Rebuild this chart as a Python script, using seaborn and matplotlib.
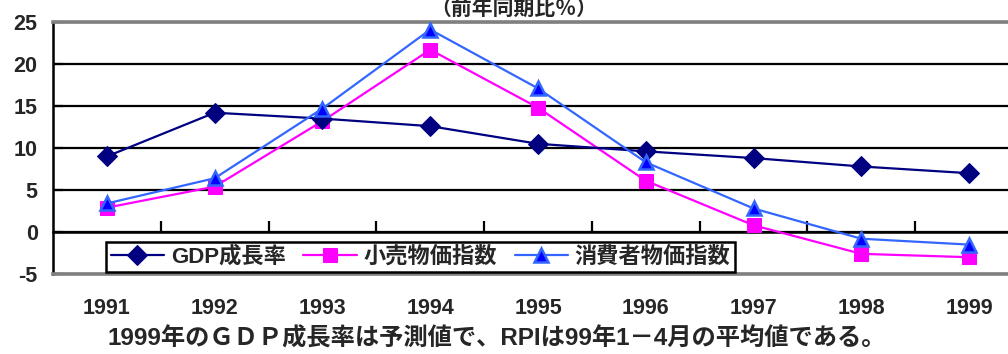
import numpy as np
import pandas as pd
import matplotlib
matplotlib.use("Agg")
import matplotlib.pyplot as plt
import seaborn as sns

# data
years = [1991, 1992, 1993, 1994, 1995, 1996, 1997, 1998, 1999]
gdp = [9.0, 14.2, 13.5, 12.6, 10.5, 9.6, 8.8, 7.8, 7.0]
rpi = [2.9, 5.4, 13.2, 21.7, 14.8, 6.1, 0.8, -2.6, -3.0]
cpi = [3.4, 6.4, 14.7, 24.1, 17.1, 8.3, 2.8, -0.8, -1.5]
names = ['GDP成長率', '小売物価指数', '消費者物価指数']
yticks = [-5, 0, 5, 10, 15, 20, 25]
title = '（前年同期比％）'
note = '1999年のＧＤＰ成長率は予測値で、RPIは99年1－4月の平均値である。'

sns.set_theme(style='white')
plt.rcParams['font.family'] = ['Liberation Sans', 'Noto Sans CJK JP', 'DejaVu Sans']
plt.rcParams['font.weight'] = 'bold'
plt.rcParams['axes.unicode_minus'] = False

df = pd.DataFrame({'year': years, names[0]: gdp, names[1]: rpi, names[2]: cpi})

fig = plt.figure(figsize=(10.08, 3.54), dpi=100)
ax = fig.add_axes([53 / 1008, 80 / 354, 970 / 1008, 252 / 354])

sns.lineplot(data=df, x='year', y=names[0], ax=ax, color='#000080', lw=1.6,
             marker='D', markersize=10, markerfacecolor='#000080',
             markeredgecolor='#000080', label=names[0], zorder=5)
sns.lineplot(data=df, x='year', y=names[1], ax=ax, color='#FF00FF', lw=1.6,
             marker='s', markersize=10.5, markerfacecolor='#FF00FF',
             markeredgecolor='#FF00FF', label=names[1], zorder=4)
sns.lineplot(data=df, x='year', y=names[2], ax=ax, color='#3366FF', lw=1.6,
             marker='^', markersize=10.5, markerfacecolor='#0000FF',
             markeredgecolor='#3366FF', markeredgewidth=1.8,
             label=names[2], zorder=6)

ax.set_xlim(1990.5, 1999.5)
ax.set_ylim(-5, 25)
ax.set_yticks(yticks)
ax.set_xticks(years)
ax.set_xlabel('')
ax.set_ylabel('')
ax.grid(axis='y', color='black', lw=1.6)
ax.grid(axis='x', visible=False)
ax.tick_params(axis='x', length=0, pad=17, labelsize=15.5)
ax.tick_params(axis='y', direction='in', length=7, width=1.6, color='black',
               labelsize=15.5, pad=11, left=True)
for lab in ax.get_xticklabels() + ax.get_yticklabels():
    lab.set_fontweight('bold')

for s in ['top', 'bottom']:
    ax.spines[s].set_color('#808080')
    ax.spines[s].set_linewidth(2.6)
ax.spines['left'].set_color('black')
ax.spines['left'].set_linewidth(1.8)
ax.spines['right'].set_visible(False)

# zero line with category boundary ticks
sec = ax.secondary_xaxis(5 / 30)
sec.set_xticks([y + 0.5 for y in years[:-1]])
sec.set_xticklabels([])
sec.tick_params(axis='x', direction='in', length=8, width=1.6, color='black')
sec.spines['bottom'].set_color('black')
sec.spines['bottom'].set_linewidth(1.8)

leg = ax.legend(loc='lower left', bbox_to_anchor=(0.055, 0.008), ncol=3,
                frameon=True, fancybox=False, edgecolor='black', framealpha=1,
                handlelength=2.4, handletextpad=0.3, columnspacing=0.8,
                borderpad=0.2, borderaxespad=0.0,
                prop={'size': 16, 'weight': 'bold'})
leg.get_frame().set_linewidth(1.8)
leg.set_zorder(3)

fig.text(0.51, 0.999, title, ha='center', va='top', fontsize=15,
         fontweight='bold')
fig.text(0.493, 0.042, note, ha='center', va='center', fontsize=17.5,
         fontweight='bold')

plt.savefig('out.png', dpi=100)
